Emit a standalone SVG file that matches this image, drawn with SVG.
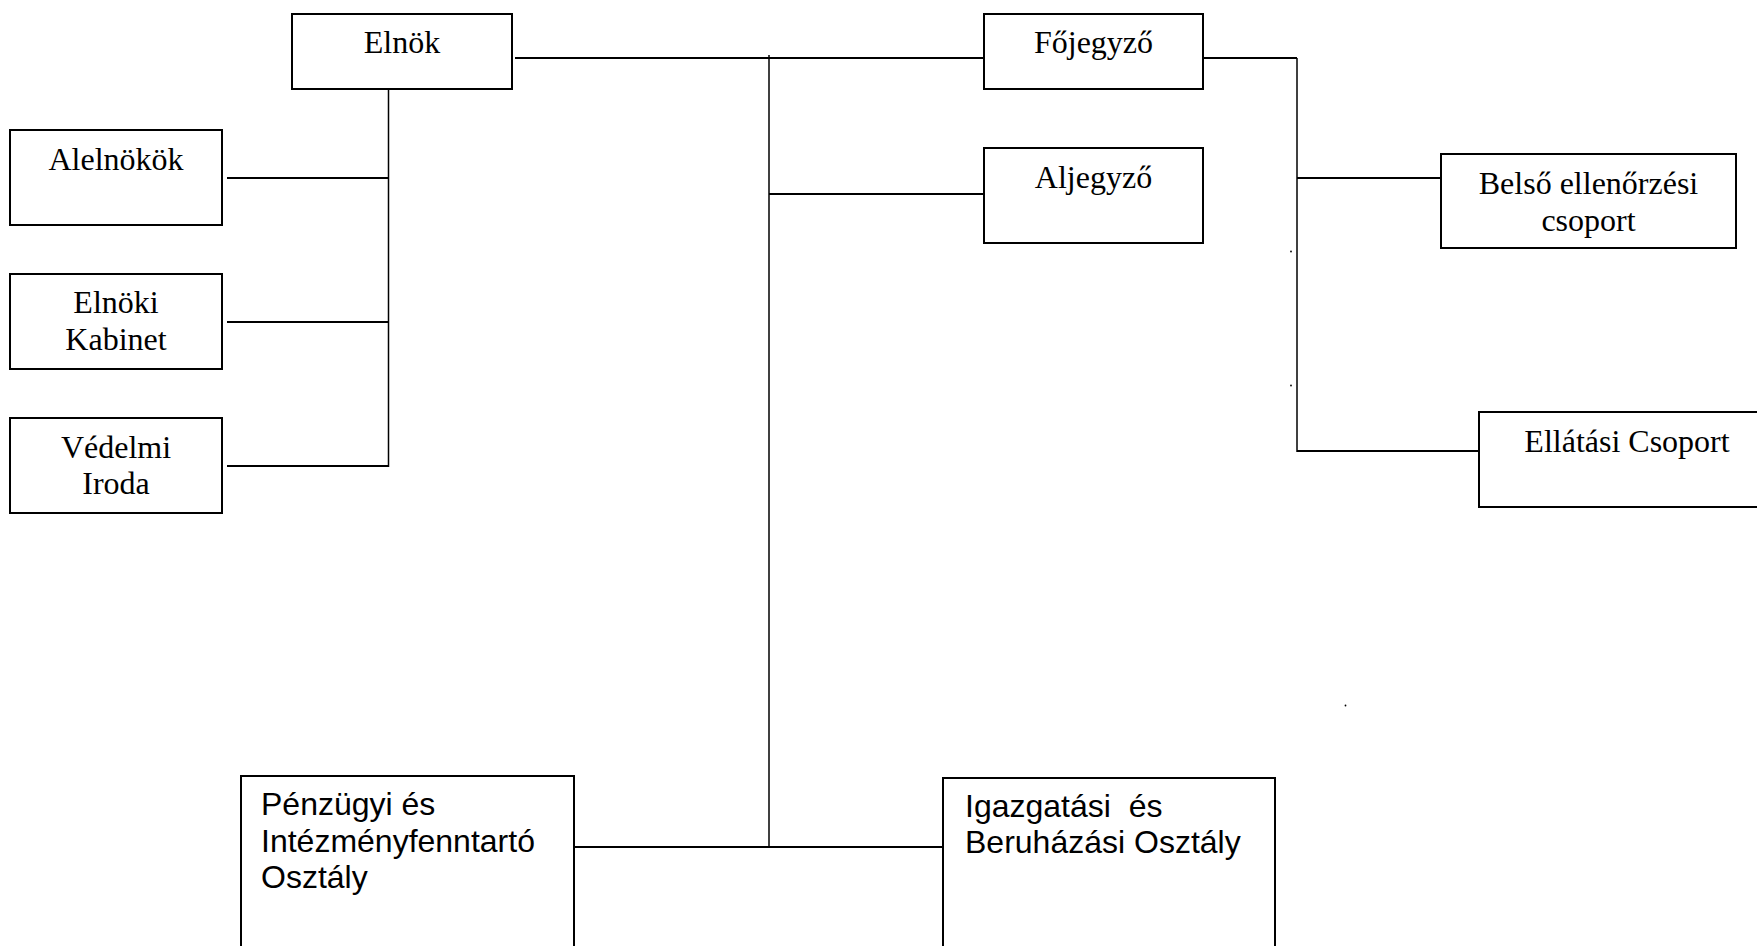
<svg xmlns="http://www.w3.org/2000/svg" width="1757" height="946" viewBox="0 0 1757 946">
<style>
.box{fill:#fff;stroke:#000;stroke-width:2}
.ser{font-family:"Liberation Serif","Times New Roman",serif;font-size:32px;fill:#000;text-anchor:middle}
.san{font-family:"Liberation Sans",Arial,sans-serif;font-size:32px;fill:#000;white-space:pre}
.h{stroke:#000;stroke-width:1.8;fill:none}
.v{stroke:#000;stroke-width:1.5;fill:none}
.dot{fill:#000}
</style>
<rect width="1757" height="946" fill="#fff"/>
<g id="connectors">
<line class="v" x1="388.5" y1="89" x2="388.5" y2="467"/>
<line class="h" x1="227" y1="178" x2="388.5" y2="178"/>
<line class="h" x1="227" y1="322" x2="388.5" y2="322"/>
<line class="h" x1="227" y1="466" x2="388.5" y2="466"/>
<line class="h" x1="515" y1="58" x2="984" y2="58"/>
<line class="v" x1="769" y1="55" x2="769" y2="847"/>
<line class="h" x1="769" y1="194" x2="984" y2="194"/>
<line class="h" x1="568" y1="847" x2="943" y2="847"/>
<line class="h" x1="1201" y1="58" x2="1297" y2="58"/>
<line class="v" x1="1297" y1="58" x2="1297" y2="452"/>
<line class="h" x1="1297" y1="178" x2="1441" y2="178"/>
<line class="h" x1="1297" y1="451" x2="1479" y2="451"/>
<circle class="dot" cx="1291" cy="251.5" r="0.9"/>
<circle class="dot" cx="1291" cy="385.5" r="0.9"/>
<circle class="dot" cx="1345.5" cy="705.5" r="0.9"/>
</g>
<g id="elnok"><rect class="box" x="292" y="14" width="220" height="75"/><text class="ser" x="402" y="53">Elnök</text></g>
<g id="alelnokok"><rect class="box" x="10" y="130" width="212" height="95"/><text class="ser" x="116" y="170">Alelnökök</text></g>
<g id="elnoki-kabinet"><rect class="box" x="10" y="274" width="212" height="95"/><text class="ser" x="116" y="313">Elnöki</text><text class="ser" x="116" y="350">Kabinet</text></g>
<g id="vedelmi-iroda"><rect class="box" x="10" y="418" width="212" height="95"/><text class="ser" x="116" y="458">Védelmi</text><text class="ser" x="116" y="494">Iroda</text></g>
<g id="fojegyzo"><rect class="box" x="984" y="14" width="219" height="75"/><text class="ser" x="1093.5" y="53">Főjegyző</text></g>
<g id="aljegyzo"><rect class="box" x="984" y="148" width="219" height="95"/><text class="ser" x="1093.5" y="188">Aljegyző</text></g>
<g id="belso"><rect class="box" x="1441" y="154" width="295" height="94"/><text class="ser" x="1588.5" y="194">Belső ellenőrzési</text><text class="ser" x="1588.5" y="230.5">csoport</text></g>
<g id="ellatasi"><rect class="box" x="1479" y="412" width="296" height="95"/><text class="ser" x="1627" y="452">Ellátási Csoport</text></g>
<g id="penzugyi"><rect class="box" x="241" y="776" width="333" height="200"/><text class="san" x="261" y="815">Pénzügyi és</text><text class="san" x="261" y="852">Intézményfenntartó</text><text class="san" x="261" y="888">Osztály</text></g>
<g id="igazgatasi"><rect class="box" x="943" y="778" width="332" height="200"/><text class="san" x="965" y="817" xml:space="preserve">Igazgatási  és</text><text class="san" x="965" y="853">Beruházási Osztály</text></g>
</svg>
